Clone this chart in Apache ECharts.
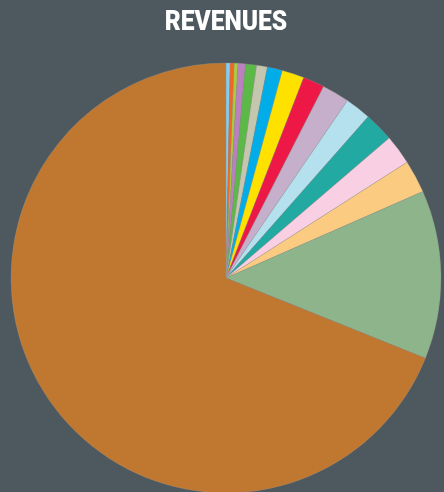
<!DOCTYPE html>
<html><head><meta charset="utf-8">
<script src="https://cdn.jsdelivr.net/npm/echarts@6/dist/echarts.min.js"></script>
<style>html,body{margin:0;padding:0;background:#4D585F;}#c{width:444px;height:492px;}</style>
</head><body><div id="c"></div>
<script>
const titleText = 'REVENUES';
const categories = ['S1','S2','S3','S4','S5','S6','S7','S8','S9','S10','S11','S12','S13','S14','S15','S16'];
const values = [1.1, 1.1, 1.0, 2.0, 3.0, 2.9, 4.1, 6.0, 5.8, 7.4, 7.0, 8.0, 8.0, 8.9, 45.6, 248.1];
const colors = ['#80CFF0','#F26522','#A8CE3A','#BA80C0','#5CB847','#C5C6AE','#00ADE9','#FFE100','#EE1846','#C6AFCB','#B5E0EE','#22A9A2','#F9D0E3','#FBCB82','#8DB48A','#C07830'];
const chart = echarts.init(document.getElementById('c'));
chart.setOption({
  backgroundColor: '#4D585F',
  animation: false,
  graphic: [{
    type: 'text', x: 226, y: 23, scaleX: 0.91,
    style: {text: titleText, fill: '#ffffff', font: '900 27px Roboto', align: 'center', verticalAlign: 'middle'}
  }],
  series: [{
    type: 'pie', center: [226, 278], radius: 215, startAngle: 90, clockwise: true,
    label: {show: false}, labelLine: {show: false},
    itemStyle: {borderColor: 'rgba(150,150,150,0.6)', borderWidth: 0.5},
    data: categories.map((c, i) => ({name: c, value: values[i], itemStyle: {color: colors[i]}}))
  }]
});
</script></body></html>
